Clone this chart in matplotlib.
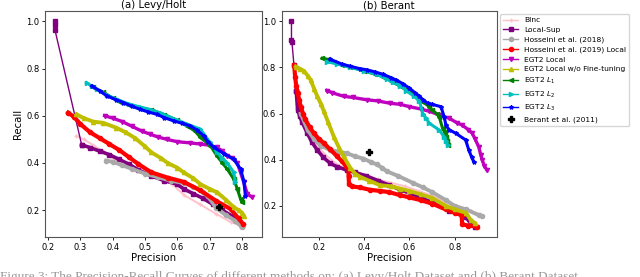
import matplotlib
matplotlib.use("Agg")
import matplotlib.pyplot as plt

# ---------------- Levy/Holt (a) ----------------
lh_blnc_p = [0.288, 0.31, 0.34, 0.37, 0.40, 0.44, 0.48, 0.52, 0.56, 0.585, 0.62, 0.67, 0.72, 0.765, 0.79]
lh_blnc_r = [0.515, 0.50, 0.475, 0.45, 0.42, 0.395, 0.375, 0.355, 0.335, 0.31, 0.265, 0.225, 0.185, 0.15, 0.138]

lh_lsup_p = [0.221, 0.221, 0.221, 0.304, 0.33, 0.36, 0.39, 0.42, 0.45, 0.48, 0.52, 0.56, 0.60, 0.62, 0.65, 0.68, 0.71, 0.74, 0.77, 0.79, 0.80]
lh_lsup_r = [1.0, 0.985, 0.965, 0.477, 0.465, 0.45, 0.435, 0.415, 0.395, 0.37, 0.345, 0.325, 0.31, 0.29, 0.27, 0.25, 0.225, 0.20, 0.175, 0.15, 0.135]

lh_h18_p = [0.38, 0.40, 0.43, 0.46, 0.50, 0.54, 0.58, 0.62, 0.65, 0.68, 0.70, 0.72, 0.75, 0.78, 0.80]
lh_h18_r = [0.41, 0.405, 0.39, 0.375, 0.355, 0.34, 0.325, 0.315, 0.30, 0.275, 0.25, 0.21, 0.18, 0.155, 0.13]

lh_h19_p = [0.262, 0.28, 0.30, 0.33, 0.36, 0.39, 0.42, 0.45, 0.48, 0.52, 0.57, 0.62, 0.67, 0.72, 0.765, 0.79, 0.805]
lh_h19_r = [0.613, 0.595, 0.565, 0.53, 0.505, 0.48, 0.455, 0.425, 0.395, 0.36, 0.338, 0.32, 0.285, 0.24, 0.205, 0.165, 0.14]

lh_egl_p = [0.375, 0.40, 0.43, 0.46, 0.49, 0.516, 0.54, 0.568, 0.60, 0.64, 0.672, 0.70, 0.723, 0.74, 0.755, 0.77, 0.786, 0.796, 0.806, 0.817, 0.832]
lh_egl_r = [0.60, 0.59, 0.575, 0.555, 0.535, 0.522, 0.51, 0.50, 0.49, 0.485, 0.48, 0.475, 0.466, 0.45, 0.43, 0.42, 0.40, 0.36, 0.318, 0.269, 0.255]

lh_nft_p = [0.288, 0.31, 0.34, 0.37, 0.41, 0.44, 0.47, 0.50, 0.52, 0.55, 0.57, 0.60, 0.62, 0.65, 0.672, 0.70, 0.723, 0.75, 0.775, 0.79, 0.80, 0.806]
lh_nft_r = [0.606, 0.59, 0.575, 0.57, 0.55, 0.53, 0.505, 0.47, 0.445, 0.42, 0.40, 0.38, 0.36, 0.335, 0.31, 0.29, 0.276, 0.245, 0.213, 0.20, 0.19, 0.177]

lh_l1_p = [0.34, 0.37, 0.40, 0.423, 0.45, 0.485, 0.52, 0.56, 0.60, 0.63, 0.655, 0.672, 0.703, 0.723, 0.74, 0.755, 0.775, 0.786, 0.796, 0.80]
lh_l1_r = [0.72, 0.70, 0.675, 0.66, 0.645, 0.632, 0.625, 0.605, 0.58, 0.557, 0.535, 0.508, 0.473, 0.43, 0.40, 0.374, 0.332, 0.29, 0.248, 0.235]

lh_l2_p = [0.319, 0.335, 0.35, 0.382, 0.42, 0.45, 0.485, 0.52, 0.55, 0.589, 0.63, 0.672, 0.70, 0.723, 0.74, 0.755, 0.775, 0.78]
lh_l2_r = [0.74, 0.725, 0.712, 0.688, 0.665, 0.65, 0.637, 0.625, 0.61, 0.588, 0.565, 0.543, 0.49, 0.445, 0.42, 0.40, 0.36, 0.32]

lh_l3_p = [0.335, 0.36, 0.382, 0.41, 0.433, 0.46, 0.485, 0.51, 0.537, 0.56, 0.589, 0.615, 0.64, 0.66, 0.682, 0.695, 0.713, 0.744, 0.775, 0.796, 0.806, 0.811]
lh_l3_r = [0.726, 0.705, 0.684, 0.668, 0.656, 0.64, 0.627, 0.616, 0.606, 0.592, 0.578, 0.568, 0.557, 0.54, 0.515, 0.49, 0.466, 0.44, 0.416, 0.374, 0.325, 0.262]

lh_berant_p = [0.73]
lh_berant_r = [0.213]

# ---------------- Berant (b) ----------------
be_blnc_p = [0.11, 0.14, 0.18, 0.22, 0.26, 0.30, 0.34, 0.40, 0.46, 0.52, 0.58, 0.64, 0.70, 0.76, 0.82, 0.87, 0.91]
be_blnc_r = [0.62, 0.54, 0.48, 0.43, 0.395, 0.37, 0.355, 0.335, 0.315, 0.30, 0.285, 0.265, 0.245, 0.215, 0.19, 0.18, 0.165]

be_lsup_p = [0.079, 0.079, 0.081, 0.09, 0.10, 0.106, 0.115, 0.125, 0.149, 0.17, 0.193, 0.22, 0.251, 0.28, 0.324, 0.36, 0.41, 0.46, 0.51, 0.56, 0.63, 0.70, 0.775, 0.83, 0.85, 0.87, 0.89]
be_lsup_r = [1.0, 0.92, 0.91, 0.81, 0.70, 0.616, 0.59, 0.565, 0.515, 0.475, 0.442, 0.41, 0.384, 0.37, 0.355, 0.345, 0.33, 0.31, 0.29, 0.27, 0.245, 0.215, 0.18, 0.16, 0.15, 0.125, 0.11]

be_h18_p = [0.12, 0.15, 0.178, 0.21, 0.251, 0.29, 0.324, 0.36, 0.397, 0.43, 0.455, 0.48, 0.50, 0.55, 0.615, 0.66, 0.70, 0.761, 0.80, 0.85, 0.906, 0.92]
be_h18_r = [0.60, 0.53, 0.49, 0.46, 0.442, 0.435, 0.428, 0.415, 0.405, 0.39, 0.38, 0.365, 0.35, 0.33, 0.30, 0.28, 0.26, 0.225, 0.20, 0.185, 0.16, 0.155]

be_h19_p = [0.091, 0.095, 0.10, 0.106, 0.113, 0.12, 0.13, 0.14, 0.16, 0.178, 0.20, 0.222, 0.25, 0.28, 0.30, 0.318, 0.331, 0.331, 0.333, 0.345, 0.38, 0.426, 0.47, 0.51, 0.557, 0.60, 0.65, 0.70, 0.76, 0.80, 0.83, 0.833, 0.86, 0.90]
be_h19_r = [0.81, 0.76, 0.72, 0.69, 0.66, 0.63, 0.60, 0.575, 0.54, 0.515, 0.49, 0.472, 0.445, 0.415, 0.395, 0.375, 0.36, 0.33, 0.295, 0.285, 0.28, 0.27, 0.265, 0.26, 0.247, 0.237, 0.225, 0.21, 0.185, 0.17, 0.16, 0.12, 0.115, 0.11]

be_egl_p = [0.236, 0.26, 0.309, 0.35, 0.411, 0.46, 0.513, 0.56, 0.60, 0.65, 0.688, 0.73, 0.775, 0.81, 0.833, 0.86, 0.877, 0.89, 0.906, 0.915, 0.921, 0.93, 0.942]
be_egl_r = [0.70, 0.69, 0.675, 0.67, 0.66, 0.655, 0.645, 0.64, 0.63, 0.62, 0.61, 0.595, 0.58, 0.56, 0.55, 0.53, 0.515, 0.49, 0.455, 0.42, 0.40, 0.375, 0.355]

be_nft_p = [0.098, 0.115, 0.134, 0.15, 0.164, 0.18, 0.193, 0.21, 0.222, 0.24, 0.266, 0.29, 0.309, 0.338, 0.36, 0.382, 0.42, 0.469, 0.52, 0.56, 0.60, 0.65, 0.70, 0.761, 0.80, 0.85, 0.87, 0.89]
be_nft_r = [0.804, 0.795, 0.785, 0.765, 0.745, 0.705, 0.675, 0.64, 0.61, 0.565, 0.50, 0.45, 0.415, 0.366, 0.34, 0.326, 0.31, 0.29, 0.285, 0.275, 0.265, 0.25, 0.235, 0.20, 0.185, 0.17, 0.14, 0.125]

be_l1_p = [0.215, 0.24, 0.266, 0.30, 0.338, 0.40, 0.45, 0.484, 0.52, 0.557, 0.60, 0.63, 0.66, 0.688, 0.70, 0.72, 0.731, 0.746, 0.755, 0.761, 0.766, 0.768]
be_l1_r = [0.84, 0.835, 0.825, 0.812, 0.803, 0.785, 0.77, 0.76, 0.74, 0.72, 0.695, 0.675, 0.65, 0.63, 0.615, 0.60, 0.587, 0.537, 0.52, 0.50, 0.48, 0.465]

be_l2_p = [0.236, 0.28, 0.338, 0.40, 0.455, 0.50, 0.528, 0.56, 0.586, 0.62, 0.644, 0.659, 0.673, 0.688, 0.731, 0.753, 0.762, 0.768]
be_l2_r = [0.825, 0.815, 0.80, 0.785, 0.77, 0.75, 0.735, 0.72, 0.70, 0.675, 0.655, 0.60, 0.58, 0.558, 0.529, 0.50, 0.48, 0.464]

be_l3_p = [0.251, 0.30, 0.338, 0.38, 0.411, 0.45, 0.484, 0.52, 0.542, 0.57, 0.60, 0.625, 0.644, 0.66, 0.68, 0.70, 0.739, 0.753, 0.761, 0.775, 0.804, 0.848, 0.862, 0.875, 0.884]
be_l3_r = [0.835, 0.815, 0.805, 0.795, 0.79, 0.78, 0.77, 0.755, 0.745, 0.73, 0.71, 0.69, 0.675, 0.66, 0.645, 0.64, 0.63, 0.587, 0.55, 0.53, 0.515, 0.486, 0.442, 0.41, 0.391]

be_berant_p = [0.423]
be_berant_r = [0.432]

labels = ["BInc", "Local-Sup", "Hosseini et al. (2018)", "Hosseini et al. (2019) Local",
          "EGT2 Local", "EGT2 Local w/o Fine-tuning", "EGT2 $L_1$", "EGT2 $L_2$", "EGT2 $L_3$",
          "Berant et al. (2011)"]
colors = ["pink", "purple", "darkgray", "red", "m", "y", "g", "c", "b", "k"]
markers = ["+", "s", "o", "o", "v", "^", "<", ">", "*", "P"]

lh_series = [(lh_blnc_p, lh_blnc_r), (lh_lsup_p, lh_lsup_r), (lh_h18_p, lh_h18_r), (lh_h19_p, lh_h19_r),
             (lh_egl_p, lh_egl_r), (lh_nft_p, lh_nft_r), (lh_l1_p, lh_l1_r), (lh_l2_p, lh_l2_r),
             (lh_l3_p, lh_l3_r), (lh_berant_p, lh_berant_r)]
be_series = [(be_blnc_p, be_blnc_r), (be_lsup_p, be_lsup_r), (be_h18_p, be_h18_r), (be_h19_p, be_h19_r),
             (be_egl_p, be_egl_r), (be_nft_p, be_nft_r), (be_l1_p, be_l1_r), (be_l2_p, be_l2_r),
             (be_l3_p, be_l3_r), (be_berant_p, be_berant_r)]
# number of leading points of Local-Sup drawn as a thin connector
thin_lead = {0: 4, 1: 5}

fig = plt.figure(figsize=(6.4, 2.77), dpi=100)
ax1 = fig.add_axes([45/640, 40/277, 217/640, 226/277])
ax2 = fig.add_axes([281.7/640, 40/277, 215/640, 226/277])

lws = [1.4, 2.6, 2.8, 3.0, 2.4, 2.8, 2.2, 2.2, 2.2, 0]

for k, (ax, series) in enumerate(((ax1, lh_series), (ax2, be_series))):
    for i, (p, r) in enumerate(series):
        if i == 9:
            ax.plot(p, r, linestyle="none", marker=markers[i], color=colors[i], markersize=4.5, label=labels[i])
        elif i == 1:
            n = thin_lead[k]
            ax.plot(p[:n], r[:n], color=colors[i], marker=markers[i], markersize=3,
                    linewidth=1.0, label=labels[i])
            ax.plot(p[n - 1:], r[n - 1:], color=colors[i], marker=markers[i], markersize=3,
                    linewidth=lws[i])
        else:
            ax.plot(p, r, color=colors[i], marker=markers[i], markersize=3, linewidth=lws[i], label=labels[i])
    ax.tick_params(labelsize=6, length=2.5, width=0.6, pad=1.5)
    for s in ax.spines.values():
        s.set_color("#555555")
        s.set_linewidth(0.8)
    ax.set_xlabel("Precision", fontsize=7.3, labelpad=1)

ax1.set_xticks([0.2, 0.3, 0.4, 0.5, 0.6, 0.7, 0.8])
ax1.set_yticks([0.2, 0.4, 0.6, 0.8, 1.0])
ax2.set_xticks([0.2, 0.4, 0.6, 0.8])
ax2.set_yticks([0.2, 0.4, 0.6, 0.8, 1.0])
ax1.set_ylabel("Recall", fontsize=7.3, labelpad=2)
ax1.set_title("(a) Levy/Holt", fontsize=7.3, pad=2)
ax2.set_title("(b) Berant", fontsize=7.3, pad=2)

handles, labs = ax2.get_legend_handles_labels()
leg = fig.legend(handles, labs, loc="upper left", bbox_to_anchor=(500/640, 1 - 14/277),
                 fontsize=5.4, frameon=True, borderpad=0.4, labelspacing=0.45, handlelength=2.0,
                 handletextpad=0.8, borderaxespad=0.0)
for ln in leg.get_lines():
    ln.set_linewidth(1.0)

fig.text(0.0, 1 - 271/277, "Figure 3: The Precision-Recall Curves of different methods on: (a) Levy/Holt Dataset and (b) Berant Dataset.",
         fontsize=9.5, family="Liberation Serif", color="#999999", va="top", ha="left")

fig.savefig("out.png", dpi=100)
